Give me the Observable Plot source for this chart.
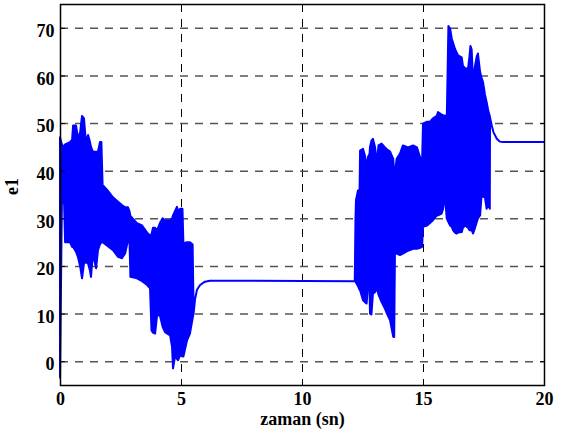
<!DOCTYPE html>
<html><head><meta charset="utf-8">
<script src="https://cdn.jsdelivr.net/npm/d3@7"></script>
<script src="https://cdn.jsdelivr.net/npm/@observablehq/plot@0.6"></script>
<style>
body{margin:0;background:#fff}
#chart svg, #chart svg text { font-family: "Liberation Serif", "Times New Roman", serif !important; font-weight: bold; }
</style>
</head><body><div id="chart"></div>
<script>
// time (sn) and the upper / lower envelope of the oscillating signal e1
const time = [
  0.00,0.08,0.17,0.21,0.41,0.50,0.54,0.66,0.74,0.83,0.91,0.99,1.07,1.16,1.24,1.28,1.36,1.49,1.57,1.65,1.71,1.76,
  1.94,2.19,2.40,2.56,2.69,2.81,2.87,2.91,3.18,3.39,3.60,3.72,3.78,3.84,3.93,4.01,4.13,4.24,4.34,4.55,4.63,4.67,
  4.75,4.83,4.88,4.96,5.06,5.10,5.25,5.37,5.48,5.52,5.58,5.66,5.79,5.99,6.20,
  12.18,12.21,12.23,12.31,12.38,12.40,12.52,12.60,12.67,12.73,12.79,12.81,12.87,12.93,13.02,13.10,13.16,13.29,
  13.43,13.51,13.64,13.77,13.81,13.84,13.91,14.05,14.17,14.38,14.59,14.75,14.88,14.96,15.00,15.17,15.29,15.41,
  15.57,15.62,15.77,15.83,15.91,15.98,16.05,16.12,16.19,16.24,16.32,16.39,16.45,16.60,16.65,16.74,16.86,16.92,
  16.96,17.01,17.07,17.15,17.22,17.27,17.36,17.42,17.48,17.56,17.63,17.70,17.76,17.77,17.84,17.91,18.05,18.18,
  18.31,20.00
];
const upper = [
  47,45.5,45,45.5,46,46.5,49.5,49.5,47,48,51.5,51,46,47.5,46,45,44,44,44,46,46,37,
  36,34.4,33.5,32.8,32.3,32.3,31.5,30.5,29,28.5,27,26.4,26.6,28,28,27.5,29,30,29.6,29.6,30,30.6,
  31.5,32.4,31.5,32,32,24.7,25,25,24.5,11,13,15,16,16.7,16.9,
  16.8,30,33.8,35.8,36,44.2,44.6,43.2,40.7,43,43.5,45,46.3,46.7,44.9,41.5,45.3,45.7,
  44.9,44.5,44,42.5,39.4,39.4,42.5,43.6,45.3,44.9,45.3,44.9,42.8,41.5,49.9,50.3,50.3,51,
  51.5,52.3,51.8,51.6,51.6,50.2,70.4,69.8,67.7,66.9,65.6,64.8,64.2,63.8,62,61.5,61.4,64,
  66.2,65.5,58.6,62,64,64.6,60.7,59.5,58.6,56,54.4,52.5,51.5,51.2,49.5,48.1,46.7,46.1,
  46,46
];
const lower = [
  -3.4,34,33,25,25,24,24,23,21.9,20,17.4,20.5,20.8,20.5,19,17.7,22.6,19.5,23.3,24.5,25,25,
  24.3,23.3,21.9,21.6,22.6,25.4,25.5,17.7,17.4,16.8,16,15.3,6.5,6,5.8,9.6,9.6,7.2,6.1,5.4,3,-1.5,
  0.9,0.5,0.2,1.2,1,1,4.4,5.8,9,10,13,15,16,16.7,16.9,
  16.8,16.8,16.5,15.8,15,14.9,12.8,12.4,12.1,16.3,15,10,9.8,14.2,14.5,15.3,14,12.4,
  11,10,8.6,5.1,5.1,22.6,22.6,22.3,22.6,23.2,23.6,23.6,23.8,24,28.2,28.5,29,29.6,
  30.6,30.6,31,32,34.8,30,29.2,28.5,28.2,27.5,27,26.8,27,27.1,28,28.5,28,27.5,
  27.5,27.5,26.8,28,29.2,30,30.6,34.8,34.5,34.4,32,33,32,51.2,49.5,48.1,46.7,46.1,
  46,46
];
const xTicks = [0, 5, 10, 15, 20];
const yTicks = [0, 10, 20, 30, 40, 50, 60, 70];
const xLabel = "zaman (sn)";
const yLabel = "e1";

const data = time.map((t, i) => ({t, hi: upper[i], lo: lower[i]}));
const font = "Liberation Serif";

const chart = Plot.plot({
  width: 567,
  height: 439,
  marginLeft: 60,
  marginRight: 23,
  marginTop: 4,
  marginBottom: 54,
  x: {domain: [0, 20]},
  y: {domain: [-5, 75]},
  style: {fontFamily: font, fontWeight: "bold", fontSize: "18px", color: "black", background: "white"},
  marks: [
    Plot.gridX(xTicks, {stroke: "#000", strokeOpacity: 1, strokeWidth: 1, strokeDasharray: "8,7"}),
    Plot.gridY(yTicks, {stroke: "#555", strokeOpacity: 1, strokeWidth: 1.5, strokeDasharray: "8,7"}),
    Plot.areaY(data, {x: "t", y1: "lo", y2: "hi", fill: "#0000ff", stroke: "#0000ff", strokeWidth: 2, curve: "linear"}),
    Plot.axisX(xTicks, {anchor: "bottom", tickSize: 0, tickPadding: 7, label: null, fontSize: 18, fontFamily: font, fontWeight: "bold"}),
    Plot.axisY(yTicks, {anchor: "left", tickSize: 0, tickPadding: 6, label: null, dy: 3, fontSize: 18, fontFamily: font, fontWeight: "bold"}),
    Plot.axisX(xTicks, {anchor: "bottom", tickSize: -5, tickFormat: () => "", label: null}),
    Plot.axisX(xTicks, {anchor: "top", tickSize: -5, tickFormat: () => "", label: null}),
    Plot.axisY(yTicks, {anchor: "left", tickSize: -5, tickFormat: () => "", label: null}),
    Plot.axisY(yTicks, {anchor: "right", tickSize: -5, tickFormat: () => "", label: null}),
    Plot.frame({stroke: "black", strokeWidth: 1.5}),
    Plot.text([xLabel], {frameAnchor: "bottom", lineAnchor: "middle", dy: 34, fontSize: 18, fontWeight: "bold", fontFamily: font}),
    Plot.text([yLabel], {frameAnchor: "left", lineAnchor: "middle", dx: -48, rotate: -90, fontSize: 18, fontWeight: "bold", fontFamily: font})
  ]
});
document.getElementById("chart").appendChild(chart);
</script>
</body></html>
